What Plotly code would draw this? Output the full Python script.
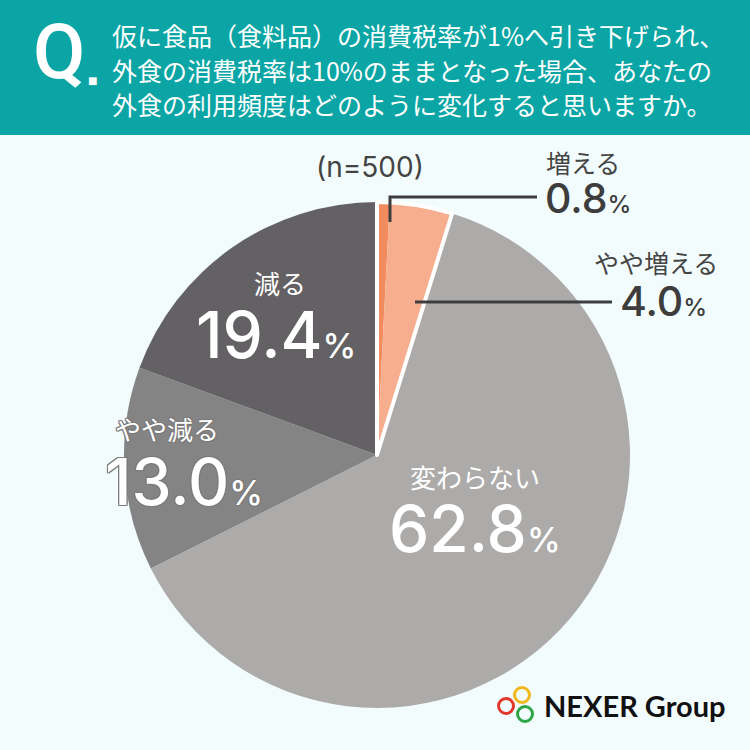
import plotly.graph_objects as go

# ---- data ----
labels = ["増える", "やや増える", "変わらない", "やや減る", "減る"]
values = [0.8, 4.0, 62.8, 13.0, 19.4]
colors = ["#f28b5e", "#f6ae8e", "#acabaa", "#858485", "#636164"]
pct_text = ["0.8", "4.0", "62.8", "13.0", "19.4"]
title_lines = [
    "仮に食品（食料品）の消費税率が1%へ引き下げられ、",
    "外食の消費税率は10%のままとなった場合、あなたの",
    "外食の利用頻度はどのように変化すると思いますか。",
]
n_text = "(n=500)"

W = H = 750
JP = "Noto Sans CJK JP"
NUM = "Inter"
BG = "#f3fcfd"
TEAL = "#0aa5a4"
DARK = "#3d3d3d"


def px(x):
    return x / W


def py(y):
    return 1 - y / H


cx, cy, r = 377, 455, 253
dom = dict(x=[px(cx - r), px(cx + r)], y=[py(cy + r), py(cy - r)])

fig = go.Figure()
fig.add_trace(go.Pie(
    labels=labels, values=values, sort=False, direction="clockwise",
    rotation=0, marker=dict(colors=colors, line=dict(width=0)),
    textinfo="none", hoverinfo="label+percent", showlegend=False, domain=dom,
))
# outline of the "increase" group (増える + やや増える)
grp_inc = values[0] + values[1]
grp_other = values[2] + values[3] + values[4]
fig.add_trace(go.Pie(
    values=[grp_inc, grp_other], sort=False, direction="clockwise", rotation=0,
    marker=dict(colors=["rgba(0,0,0,0)", "rgba(0,0,0,0)"],
                line=dict(color="white", width=[4, 0])),
    textinfo="none", hoverinfo="skip", showlegend=False, domain=dom,
))

shapes = []
shapes.append(dict(type="rect", xref="paper", yref="paper", x0=0, x1=1,
                   y0=py(135), y1=1, fillcolor=TEAL, line=dict(width=0), layer="below"))
shapes.append(dict(type="path", xref="paper", yref="paper",
                   path=f"M {px(390)},{py(222)} L {px(390)},{py(197)} L {px(537)},{py(197)}",
                   line=dict(color=DARK, width=3)))
shapes.append(dict(type="line", xref="paper", yref="paper",
                   x0=px(415), x1=px(612), y0=py(302), y1=py(302),
                   line=dict(color=DARK, width=3)))
for (lx, ly, c) in [(522, 695, "#f1b81c"), (506, 706, "#e2382c"), (525, 714, "#2fa645")]:
    rr = 7.5
    shapes.append(dict(type="circle", xref="paper", yref="paper",
                       x0=px(lx - rr), x1=px(lx + rr), y0=py(ly + rr), y1=py(ly - rr),
                       line=dict(color=c, width=3)))

ann = []


def add(text, x, y, size, color, family=JP, xanchor="center", weight=None, shadow=None):
    f = dict(size=size, color=color, family=family)
    if weight:
        f["weight"] = weight
    if shadow:
        f["shadow"] = shadow
    ann.append(dict(text=text, x=px(x), y=py(y), xref="paper", yref="paper",
                    showarrow=False, xanchor=xanchor, yanchor="middle", font=f))


add("Q", 59, 52, 76, "white", family="Roboto", weight=500)
add("■", 92, 81, 10, "white", family="DejaVu Sans")
for i, line in enumerate(title_lines):
    add(line, 110, 35 + i * 34.5, 25, "white", xanchor="left")

add(n_text, 370, 167, 28, "#444444", family=NUM)


def pct(v, small):
    return f"{v}<span style='font-size:{small}px'>%</span>"


outline = ("1px 1px 0 #7a7a7a, -1px -1px 0 #7a7a7a, 1px -1px 0 #7a7a7a, "
           "-1px 1px 0 #7a7a7a, 0 1px 0 #7a7a7a, 0 -1px 0 #7a7a7a, 1px 0 0 #7a7a7a, -1px 0 0 #7a7a7a")

add(labels[4], 280, 282, 26, "white")
add(pct(pct_text[4], 34), 276, 334, 64, "white", family=NUM, weight=500)

add(labels[3], 167, 429, 26, "white", shadow=outline)
add(pct(pct_text[3], 34), 184, 481, 64, "white", family=NUM, weight=500, shadow=outline)

add(labels[2], 475, 476, 26, "white")
add(pct(pct_text[2], 34), 475, 528, 64, "white", family=NUM, weight=500)

add(labels[0], 583, 162, 25, "#444444")
add(pct(pct_text[0], 24), 588, 198, 41, DARK, family=NUM, weight=500)

add(labels[1], 656, 262, 25, "#444444")
add(pct(pct_text[1], 24), 663, 301, 41, DARK, family=NUM, weight=500)

add("NEXER Group", 542, 705, 29, "#111111", family="Lato", xanchor="left", weight=700)

fig.update_layout(
    width=W, height=H, margin=dict(l=0, r=0, t=0, b=0),
    paper_bgcolor=BG, plot_bgcolor=BG,
    shapes=shapes, annotations=ann, showlegend=False,
)
fig.write_html("out.html", config={"displayModeBar": False},
               post_script="document.body.style.margin='0';")
